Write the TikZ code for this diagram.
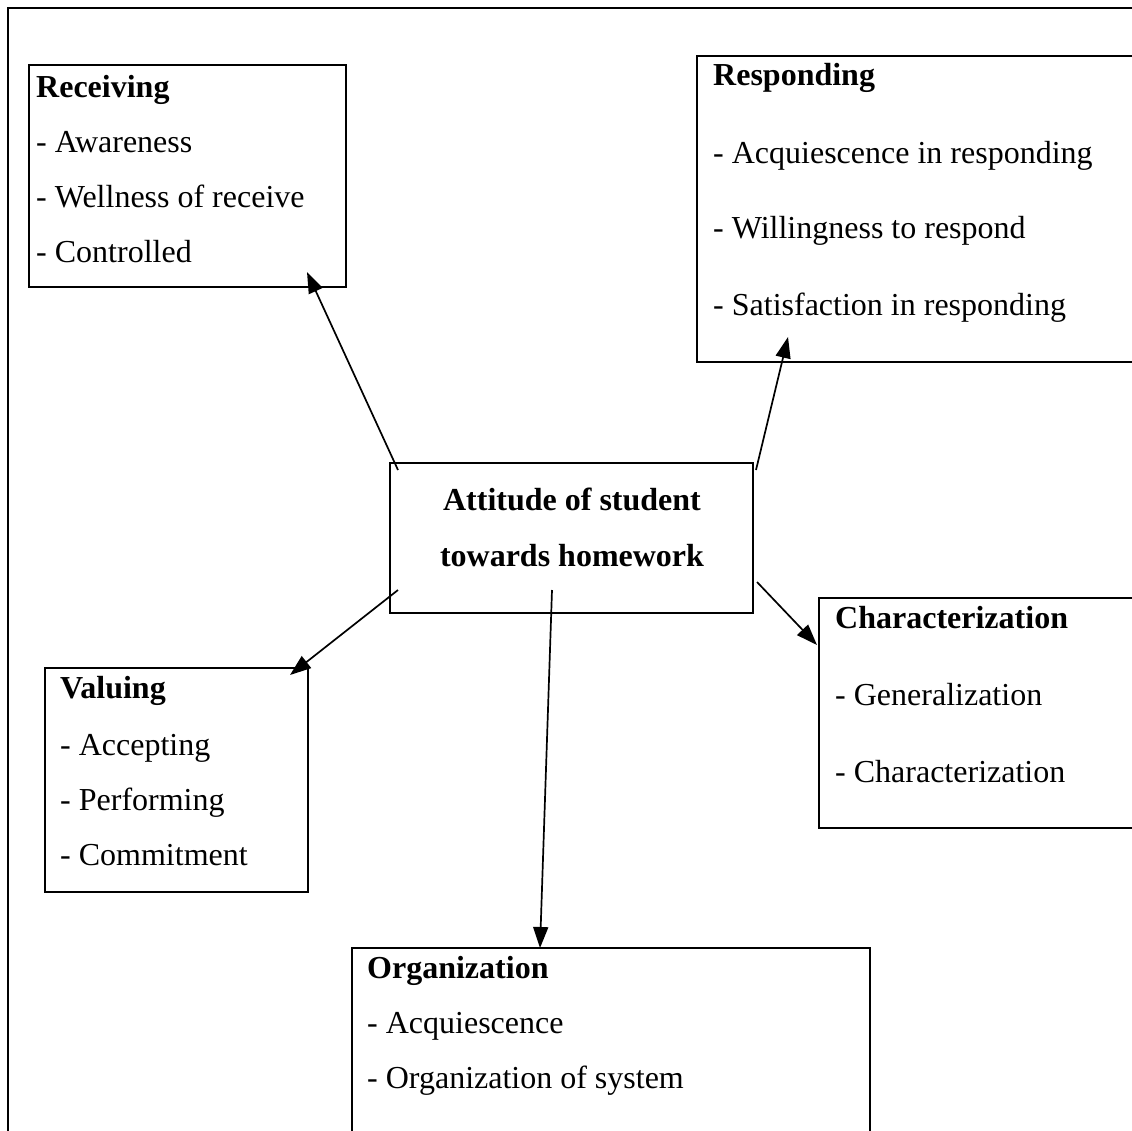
\documentclass[tikz,border=0pt]{standalone}
\usepackage{fontspec}
\setmainfont{Liberation Serif}
\usetikzlibrary{calc,arrows.meta}
\begin{document}
\begin{tikzpicture}[x=1pt,y=-1pt,
  box/.style={draw,line width=2pt,rectangle,inner sep=0pt,outer sep=0pt,anchor=north west},
  txt/.style={anchor=base west,inner sep=0pt,font=\fontsize{32}{38}\selectfont},
  hd/.style={anchor=base west,inner sep=0pt,font=\fontsize{32}{38}\selectfont\bfseries},
  arr/.style={line width=1.7pt,-{Triangle[length=21pt,width=15pt]}}]
\useasboundingbox (0,0) rectangle (1132,1130);
\clip (0,0) rectangle (1132,1130);
% outer frame
\draw[line width=2pt] (8,1150) -- (8,8) -- (1150,8);
% boxes
\node[box,minimum width=317pt,minimum height=222pt] (rec) at (29,65) {};
\node[box,minimum width=460pt,minimum height=306pt] (resp) at (697,56) {};
\node[box,minimum width=363pt,minimum height=150pt] (att) at (390,463) {};
\node[box,minimum width=340pt,minimum height=230pt] (char) at (819,598) {};
\node[box,minimum width=263pt,minimum height=224pt] (val) at (45,668) {};
\node[box,minimum width=518pt,minimum height=220pt] (org) at (352,948) {};
% Receiving
\node[hd] (rec0) at (36,97) {Receiving};
\node[txt] (rec1) at (36,152) {- Awareness};
\node[txt] (rec2) at (36,207) {- Wellness of receive};
\node[txt] (rec3) at (36,262) {- Controlled};
% Responding
\node[hd] (resp0) at (713,85) {Responding};
\node[txt] (resp1) at (713,163) {- Acquiescence in responding};
\node[txt] (resp2) at (713,238) {- Willingness to respond};
\node[txt] (resp3) at (713,315) {- Satisfaction in responding};
% Centre
\node[anchor=base,inner sep=0pt,font=\fontsize{32}{38}\selectfont\bfseries] (att1) at (572,510) {Attitude of student};
\node[anchor=base,inner sep=0pt,font=\fontsize{32}{38}\selectfont\bfseries] (att2) at (572,566) {towards homework};
% Characterization
\node[hd] (char0) at (835,628) {Characterization};
\node[txt] (char1) at (835,705) {- Generalization};
\node[txt] (char2) at (835,782) {- Characterization};
% Valuing
\node[hd] (val0) at (60,698) {Valuing};
\node[txt] (val1) at (60,755) {- Accepting};
\node[txt] (val2) at (60,810) {- Performing};
\node[txt] (val3) at (60,865) {- Commitment};
% Organization
\node[hd] (org0) at (367,978) {Organization};
\node[txt] (org1) at (367,1033) {- Acquiescence};
\node[txt] (org2) at (367,1088) {- Organization of system};
% connectors
\draw[arr] ($(att.north west)+(8,7)$) -- ($(rec.south east)+(-39,-15)$);
\draw[arr] ($(att.north east)+(3,7)$) -- ($(resp.south west)+(91,-25)$);
\draw[arr] ($(att.south east)+(4,-31)$) -- ($(char.north west)+(-2,47)$);
\draw[arr] ($(att.south west)+(8,-23)$) -- ($(val.north east)+(-18,7)$);
\draw[arr] ($(att.south west)+(162,-23)$) -- ($(org.north west)+(188,0)$);
\end{tikzpicture}
\end{document}
